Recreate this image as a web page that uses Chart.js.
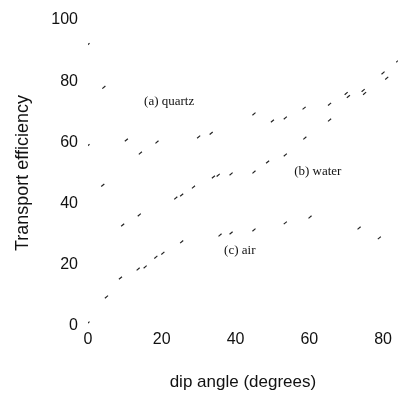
<!DOCTYPE html>
<html>
<head>
<meta charset="utf-8">
<script src="https://cdn.jsdelivr.net/npm/chart.js@4/dist/chart.umd.min.js"></script>
<style>
  html, body { margin: 0; padding: 0; background: #fff; }
  #wrap { width: 403px; height: 399px; }
</style>
</head>
<body>
<div id="wrap"><canvas id="chart" width="403" height="399"></canvas></div>
<script>
// dip angle (degrees) vs transport efficiency
const quartzX = [0, 4.3, 10.4, 14.2, 18.7, 30, 33.4, 45, 50, 53.5, 58.6, 65.5, 70, 74.6, 80, 84];
const quartzY = [92, 78, 60.8, 56.5, 60.1, 61.8, 63, 69.3, 67, 68, 71.2, 72.5, 76, 77, 82.7, 86.6];

const waterX = [0, 4, 9.4, 13.9, 23.8, 25.4, 28.6, 34, 35.3, 38.8, 45, 48.7, 53.5, 58.8, 65.5, 70.6, 75, 81];
const waterY = [59, 46, 33, 36.3, 41.8, 42.8, 45.4, 48.7, 49.3, 49.7, 50.3, 53.6, 55.9, 61.4, 67.3, 75, 76, 81];

const airX = [0, 5, 8.8, 13.6, 15.5, 18.4, 20.3, 25.4, 35.8, 38.8, 45, 53.5, 60.2, 73.5, 79];
const airY = [1, 9.5, 15.7, 18.6, 19.3, 22.5, 23.8, 27.5, 29.7, 30.4, 31.4, 33.7, 35.6, 32, 28.8];

const xTicks = [0, 20, 40, 60, 80];
const yTicks = [0, 20, 40, 60, 80, 100];

// curve labels, placed in data units
const curveLabels = [
    { text: '(a) quartz', x: 15.2, y: 73.5 },
    { text: '(b) water', x: 55.9, y: 50.6 },
    { text: '(c) air', x: 36.9, y: 24.5 },
];

function toPoints(xs, ys) {
    return xs.map((x, i) => ({ x: x, y: ys[i] }));
}

function series(label, xs, ys) {
    return {
        label: label,
        data: toPoints(xs, ys),
        showLine: false,
        pointStyle: 'line',
        pointRadius: 2,
        pointRotation: -40,
        pointBorderWidth: 1.2,
        borderColor: '#222',
        backgroundColor: '#222',
    };
}

const curveLabelPlugin = {
    id: 'curveLabels',
    afterDatasetsDraw(chart) {
        const ctx = chart.ctx;
        const xs = chart.scales.x, ys = chart.scales.y;
        ctx.save();
        ctx.fillStyle = '#111';
        ctx.font = '13px "Liberation Serif", serif';
        ctx.textBaseline = 'middle';
        ctx.textAlign = 'left';
        curveLabels.forEach(l => {
            ctx.fillText(l.text, xs.getPixelForValue(l.x), ys.getPixelForValue(l.y));
        });
        ctx.restore();
    }
};

new Chart(document.getElementById('chart').getContext('2d'), {
    type: 'scatter',
    data: {
        datasets: [
            series('(a) quartz', quartzX, quartzY),
            series('(b) water', waterX, waterY),
            series('(c) air', airX, airY),
        ]
    },
    options: {
        responsive: false,
        animation: false,
        layout: { padding: { top: 20, right: 1, left: 0, bottom: 0 } },
        plugins: { legend: { display: false }, tooltip: { enabled: false } },
        scales: {
            x: {
                type: 'linear',
                min: 0,
                max: 84,
                grid: { display: false, drawTicks: false },
                border: { display: false },
                afterBuildTicks: (scale) => { scale.ticks = xTicks.map(v => ({ value: v })); },
                afterFit: (scale) => { scale.height = 73; },
                ticks: { color: '#111', padding: 4, font: { family: '"Liberation Sans", Arial, sans-serif', size: 16 }, maxRotation: 0 },
                title: { display: true, text: 'dip angle (degrees)', color: '#111', padding: { top: 0, bottom: 6 },
                         font: { family: '"Liberation Sans", Arial, sans-serif', size: 17 } }
            },
            y: {
                min: 0,
                max: 100,
                grid: { display: false, drawTicks: false },
                border: { display: false },
                afterBuildTicks: (scale) => { scale.ticks = yTicks.map(v => ({ value: v })); },
                afterFit: (scale) => { scale.width = 88; },
                ticks: { color: '#111', padding: 10, font: { family: '"Liberation Sans", Arial, sans-serif', size: 16 } },
                title: { display: true, text: 'Transport efficiency', color: '#111', padding: { top: 12, bottom: 0 },
                         font: { family: '"Liberation Sans", Arial, sans-serif', size: 18 } }
            }
        }
    },
    plugins: [curveLabelPlugin]
});
</script>
</body>
</html>
